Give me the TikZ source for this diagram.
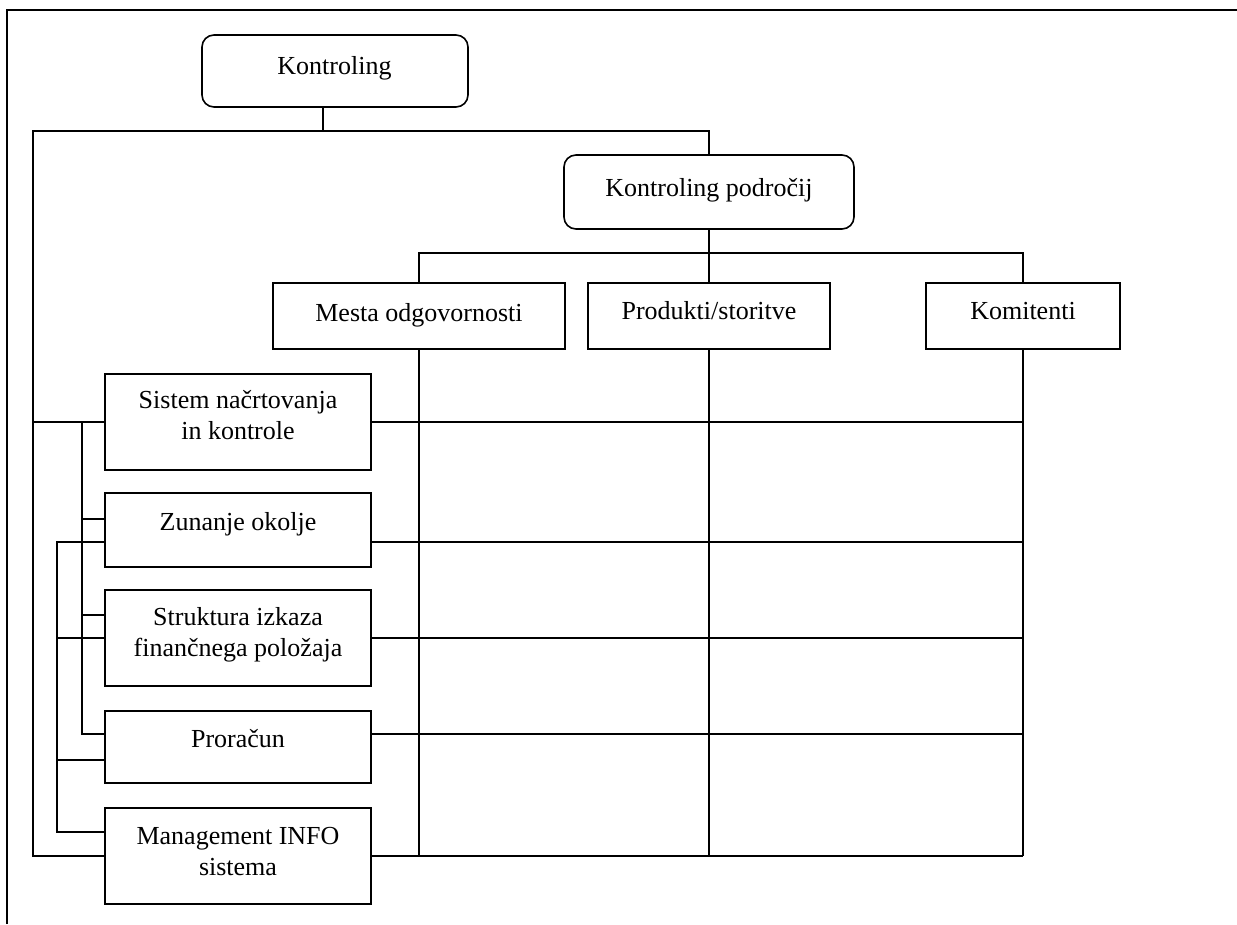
\documentclass[tikz,border=0pt]{standalone}
\usepackage{fontspec}
\setmainfont{Liberation Serif}
\begin{document}
\begin{tikzpicture}[x=1pt,y=-1pt,
  line/.style={line width=1.6pt},
  box/.style={draw,line width=1.6pt,rectangle,inner sep=0pt},
  rbox/.style={box,rounded corners=12pt},
  lbl/.style={font=\fontsize{26}{31}\selectfont,align=center,inner sep=0pt,anchor=base}]
\useasboundingbox (0,0) rectangle (1237,924);
% open frame
\draw[line width=2pt] (7,924) -- (7,10) -- (1237,10);

% boxes
\node[rbox,minimum width=266pt,minimum height=72pt] (kon) at (335,71) {};
\node[rbox,minimum width=290pt,minimum height=74pt] (kp) at (709,192) {};
\node[box,minimum width=292pt,minimum height=66pt] (mesta) at (419,316) {};
\node[box,minimum width=242pt,minimum height=66pt] (prod) at (709,316) {};
\node[box,minimum width=194pt,minimum height=66pt] (kom) at (1023,316) {};
\node[box,minimum width=266pt,minimum height=96pt] (sis) at (238,422) {};
\node[box,minimum width=266pt,minimum height=74pt] (zun) at (238,530) {};
\node[box,minimum width=266pt,minimum height=96pt] (str) at (238,638) {};
\node[box,minimum width=266pt,minimum height=72pt] (pro) at (238,747) {};
\node[box,minimum width=266pt,minimum height=96pt] (mis) at (238,856) {};

% labels (multi-line labels sit on the baseline of their last line)
\node[lbl] (kon-t) at (334.5,74) {Kontroling};
\node[lbl] (kp-t) at (709,196) {Kontroling področij};
\node[lbl] (mesta-t) at (419,321) {Mesta odgovornosti};
\node[lbl] (prod-t) at (709,319) {Produkti/storitve};
\node[lbl] (kom-t) at (1023,319) {Komitenti};
\node[lbl] (sis-t) at (238,439) {Sistem načrtovanja\\in kontrole};
\node[lbl] (zun-t) at (238,530) {Zunanje okolje};
\node[lbl] (str-t) at (238,656) {Struktura izkaza\\finančnega položaja};
\node[lbl] (pro-t) at (238,747) {Proračun};
\node[lbl] (mis-t) at (238,875) {Management INFO\\sistema};

% junction points
\coordinate (kstem) at (323,131);
\coordinate (leftc) at (33,131);
\coordinate (kb) at (709,253);
\coordinate (ba-top) at (82,422);
\coordinate (ba-bot) at (82,734);
\coordinate (za) at (82,519);
\coordinate (sa) at (82,615);
\coordinate (bb1) at (57,542);
\coordinate (bb4) at (57,832);
\coordinate (pb) at (57,760);

% upper tree
\draw[line] (kstem |- kon.south) -- (kstem);
\draw[line] (kp.north) -- (kp.north |- kstem) -- (leftc) -- (leftc |- mis.west) -- (mis.west);
\draw[line] (kp.south) -- (kb);
\draw[line] (mesta.north) -- (mesta.north |- kb) -- (kom.north |- kb) -- (kom.north);
\draw[line] (prod.north) -- (kb);

% left side bus and brackets
\draw[line] (leftc |- sis.west) -- (sis.west);
\draw[line] (ba-top) -- (ba-bot) -- (ba-bot -| pro.west);
\draw[line] (za) -- (za -| zun.west);
\draw[line] (sa) -- (sa -| str.west);
\draw[line] (bb1 -| zun.west) -- (bb1) -- (bb4) -- (bb4 -| mis.west);
\draw[line] (bb1 |- str.west) -- (str.west);
\draw[line] (pb) -- (pb -| pro.west);

% matrix grid
\draw[line] (sis.east) -- (sis.east -| kom.south);
\draw[line] (zun.east |- bb1) -- (bb1 -| kom.south);
\draw[line] (str.east) -- (str.east -| kom.south);
\draw[line] (pro.east |- ba-bot) -- (ba-bot -| kom.south);
\draw[line] (mis.east) -- (mis.east -| kom.south);
\draw[line] (mesta.south) -- (mesta.south |- mis.east);
\draw[line] (prod.south) -- (prod.south |- mis.east);
\draw[line] (kom.south) -- (kom.south |- mis.east);
\end{tikzpicture}
\end{document}
